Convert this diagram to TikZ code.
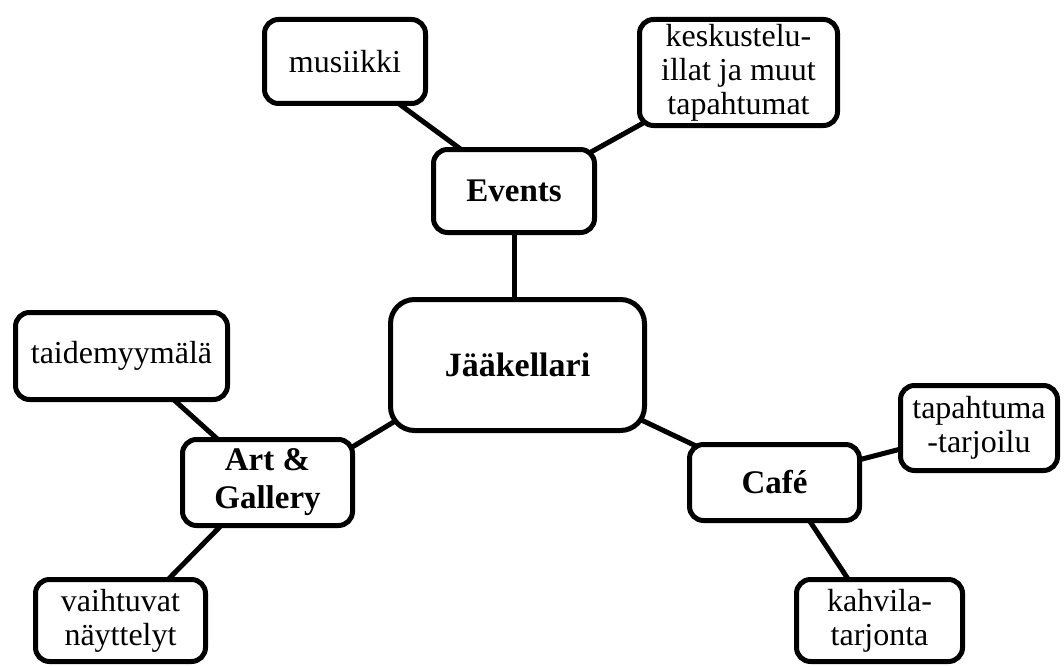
\documentclass[tikz,border=0pt]{standalone}
\usepackage{fontspec}
\setmainfont{Liberation Serif}
\usetikzlibrary{backgrounds}
\begin{document}
\begin{tikzpicture}[x=1pt,y=-1pt,
  box/.style={draw, line width=5pt, rounded corners=14pt, fill=white, align=center, inner sep=0pt, font=\fontsize{32}{34}\selectfont},
  hub/.style={box, font=\fontsize{33}{38}\selectfont\bfseries},
  link/.style={line width=5pt, shorten <=-12pt, shorten >=-12pt}]
\useasboundingbox (0,0) rectangle (1064,666);
\node[box, minimum width=161pt, minimum height=84pt] (mus) at (345,61.5) {musiikki};
\node[box, minimum width=198pt, minimum height=106pt] (kes) at (738.5,72.5) {keskustelu-\\illat ja muut\\tapahtumat};
\node[hub, minimum width=161pt, minimum height=83pt] (ev) at (514,191) {Events};
\node[hub, minimum width=254pt, minimum height=131pt, rounded corners=24pt, font=\fontsize{34}{38}\selectfont\bfseries] (jaa) at (517.5,365) {Jääkellari};
\node[box, minimum width=212pt, minimum height=87pt] (taid) at (121.5,356) {taidemyymälä};
\node[hub, minimum width=170pt, minimum height=86pt] (art) at (267.5,482.5) {Art \&\\Gallery};
\node[hub, minimum width=170pt, minimum height=76pt] (cafe) at (774.5,482.5) {Café};
\node[box, minimum width=157pt, minimum height=85pt] (tap) at (979,428) {tapahtuma\\-tarjoilu};
\node[box, minimum width=170pt, minimum height=82pt] (vaih) at (120.5,620.5) {vaihtuvat\\näyttelyt};
\node[box, minimum width=166pt, minimum height=82pt] (kah) at (879.5,620.5) {kahvila-\\tarjonta};
\begin{pgfonlayer}{background}
\draw[link] (mus.-38.6) -- (ev.142.3);
\draw[link] (kes.-152) -- (ev.27.4);
\draw[link] (ev.south) -- (ev.south |- jaa.north);
\draw[link] (jaa.205.2) -- (art.23.7);
\draw[link] (jaa.-24.9) -- (cafe.155.5);
\draw[link] (taid.-40.3) -- (art.139);
\draw[link] (art.223.8) -- (vaih.41.5);
\draw[link] (cafe.15.6) -- (tap.195.2);
\draw[link] (cafe.-48.8) -- (kah.127.2);
\end{pgfonlayer}
\end{tikzpicture}
\end{document}
